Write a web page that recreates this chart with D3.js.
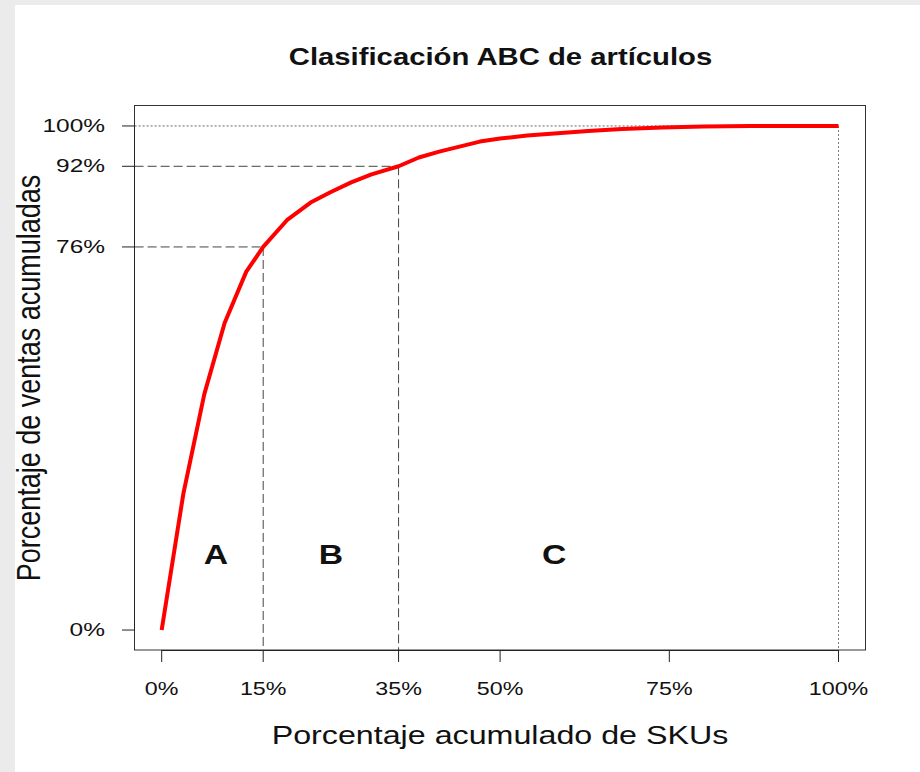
<!DOCTYPE html>
<html>
<head>
<meta charset="utf-8">
<script src="https://cdnjs.cloudflare.com/ajax/libs/d3/7.8.5/d3.min.js"></script>
<style>
  html, body { margin: 0; padding: 0; background: #ebebeb; }
  svg { display: block; }
  text { font-family: "Liberation Sans", Arial, Helvetica, sans-serif; fill: #111; }
</style>
</head>
<body>
<svg id="chart" width="920" height="772"></svg>
<script>
// ---- data ----
const skuPct   = [0, 3.2, 6.3, 9.3, 12.5, 15, 18.5, 22, 25, 28, 31, 35, 38, 41, 44, 47, 50, 54, 58, 63, 68, 74, 80, 87, 94, 100];
const salesPct = [0, 27, 46.8, 60.9, 71.1, 76, 81.3, 84.8, 86.9, 88.8, 90.4, 92, 93.75, 94.9, 95.9, 96.9, 97.5, 98.1, 98.5, 99.0, 99.4, 99.7, 99.9, 100, 100, 100];
const xTicks = [0, 15, 35, 50, 75, 100];
const yTicks = [0, 76, 92, 100];
const cutX = [15, 35];           // A/B and B/C cut-offs (% SKUs)
const cutY = [76, 92];           // corresponding % of sales
const classLabels = ["A", "B", "C"];
const classLabelX = [8, 25, 58];
const classLabelY = 15;
const titleText = "Clasificación ABC de artículos";
const xTitle = "Porcentaje acumulado de SKUs";
const yTitle = "Porcentaje de ventas acumuladas";

// ---- layout ----
const svg = d3.select("#chart");
svg.append("rect").attr("x", 15).attr("y", 5).attr("width", 905).attr("height", 767).attr("fill", "#fff");

const x = d3.scaleLinear().domain([-4, 104]).range([134.6, 865.6]);
const y = d3.scaleLinear().domain([-4, 104]).range([650.2, 105.8]);
const pct = d => d + "%";

// title
svg.append("text")
  .attr("transform", `translate(500.5,65) scale(1.22,1)`)
  .attr("text-anchor", "middle")
  .style("font-size", "24px").style("font-weight", "bold")
  .text(titleText);

// reference lines (dashed) for A/B and B/C cuts
const ref = svg.append("g").attr("fill", "none").attr("stroke", "#444").attr("stroke-width", 1);
cutX.forEach((cx, i) => {
  ref.append("line")
    .attr("x1", x(-4)).attr("x2", x(cx)).attr("y1", y(cutY[i])).attr("y2", y(cutY[i]))
    .attr("stroke-dasharray", "9,4");
  ref.append("line")
    .attr("x1", x(cx)).attr("x2", x(cx)).attr("y1", y(cutY[i])).attr("y2", y(-4))
    .attr("stroke-dasharray", "9,4");
});
// dotted lines at 100%
ref.append("line")
  .attr("x1", x(-4)).attr("x2", x(100)).attr("y1", y(100)).attr("y2", y(100))
  .attr("stroke", "#666").attr("stroke-dasharray", "2,2");
ref.append("line")
  .attr("x1", x(100)).attr("x2", x(100)).attr("y1", y(100)).attr("y2", y(-4))
  .attr("stroke", "#777").attr("stroke-dasharray", "2,2");

// curve
const pts = skuPct.map((d, i) => [d, salesPct[i]]);
svg.append("path")
  .datum(pts)
  .attr("fill", "none")
  .attr("stroke", "#ff0000")
  .attr("stroke-width", 4)
  .attr("stroke-linejoin", "round")
  .attr("stroke-linecap", "butt")
  .attr("d", d3.line().x(d => x(d[0])).y(d => y(d[1])));

// box
svg.append("rect")
  .attr("x", 134.5).attr("y", 105.5)
  .attr("width", 731).attr("height", 544.5)
  .attr("fill", "none").attr("stroke", "#333").attr("stroke-width", 1);

// x axis
const gx = svg.append("g");
gx.append("line").attr("x1", x(0)).attr("x2", x(100)).attr("y1", 650.5).attr("y2", 650.5).attr("stroke", "#222");
gx.selectAll("line.tick").data(xTicks).join("line").attr("class", "tick")
  .attr("x1", d => x(d)).attr("x2", d => x(d)).attr("y1", 650).attr("y2", 662)
  .attr("stroke", "#222");
gx.selectAll("text").data(xTicks).join("text")
  .attr("transform", d => `translate(${x(d)},695) scale(1.33,1)`)
  .attr("text-anchor", "middle").style("font-size", "17.5px")
  .text(pct);

// y axis
const gy = svg.append("g");
gy.append("line").attr("x1", 134.5).attr("x2", 134.5).attr("y1", y(0)).attr("y2", y(100)).attr("stroke", "#222");
gy.selectAll("line.tick").data(yTicks).join("line").attr("class", "tick")
  .attr("x1", 122).attr("x2", 134.5).attr("y1", d => y(d)).attr("y2", d => y(d))
  .attr("stroke", "#222");
gy.selectAll("text").data(yTicks).join("text")
  .attr("transform", d => `translate(105,${y(d) + 6}) scale(1.4,1)`)
  .attr("text-anchor", "end").style("font-size", "17.5px")
  .text(pct);

// class labels
svg.selectAll("text.cls").data(classLabels).join("text").attr("class", "cls")
  .attr("transform", (d, i) => `translate(${x(classLabelX[i])},${y(classLabelY) + 10}) scale(1.25,1)`)
  .attr("text-anchor", "middle")
  .style("font-size", "27px").style("font-weight", "bold")
  .text(d => d);

// axis titles
svg.append("text")
  .attr("transform", `translate(500,744) scale(1.24,1)`)
  .attr("text-anchor", "middle").style("font-size", "26px")
  .text(xTitle);
svg.append("text")
  .attr("transform", `translate(40,378) scale(1.2,1) rotate(-90)`)
  .attr("text-anchor", "middle").style("font-size", "27px")
  .text(yTitle);
</script>
</body>
</html>
